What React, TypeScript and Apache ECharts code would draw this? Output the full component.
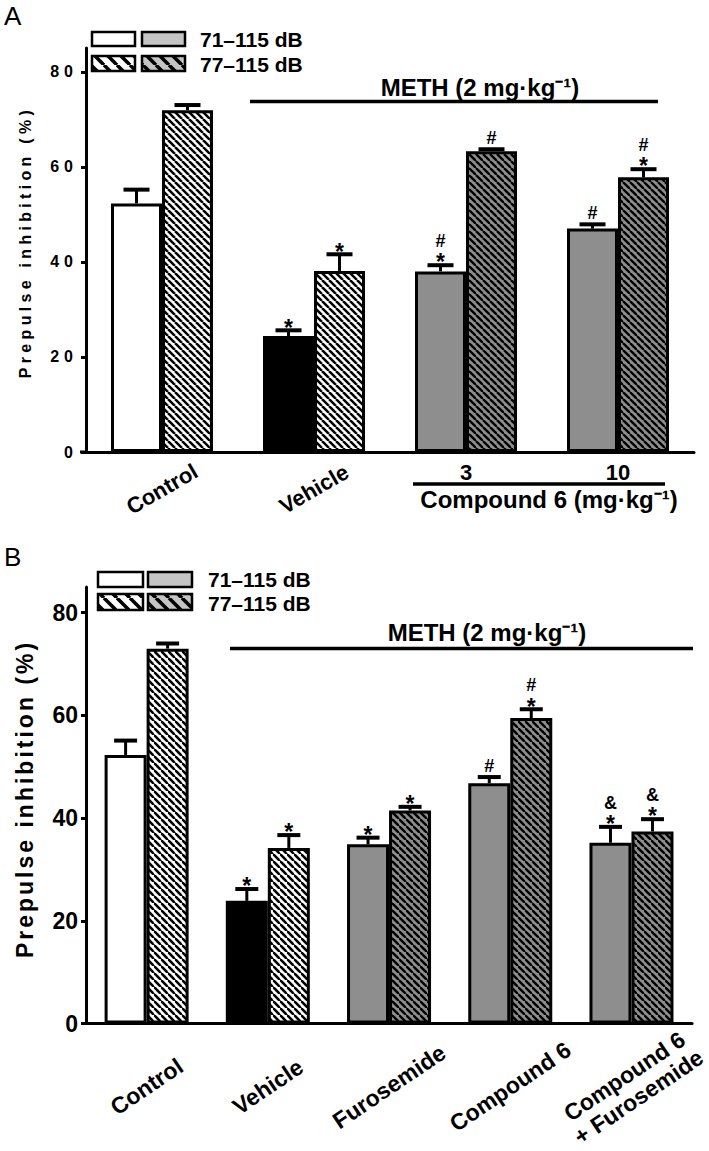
import React, { useEffect, useRef } from 'react';
import * as echarts from 'echarts';

const FONT = '"Liberation Sans", Arial, Helvetica, sans-serif';

// ---------- Panel A data ----------
const catsA = ['Control', 'Vehicle', '3', '10'];
const rotatedA = [true, true, false, false];
const kindA = ['control', 'vehicle', 'treat', 'treat'];
const a71 = [52.3, 24.4, 38.0, 47.0];
const a71Top = [55.2, 25.6, 39.3, 47.9];
const a77 = [71.9, 38.1, 63.3, 57.8];
const a77Top = [73.0, 41.6, 63.7, 59.5];
const a71Marks = ['', '*', '#*', '#'];
const a77Marks = ['', '*', '#', '#*'];

// ---------- Panel B data ----------
const catsB = ['Control', 'Vehicle', 'Furosemide', 'Compound 6', 'Compound 6\n+ Furosemide'];
const kindB = ['control', 'vehicle', 'treat', 'treat', 'treat'];
const b71 = [52.3, 23.9, 34.9, 46.8, 35.2];
const b71Top = [55.1, 26.2, 36.2, 48.0, 38.3];
const b77 = [73.0, 34.2, 41.5, 59.5, 37.4];
const b77Top = [74.0, 36.7, 42.2, 61.2, 39.8];
const b71Marks = ['', '*', '*', '#', '&*'];
const b77Marks = ['', '*', '*', '#*', '&*'];

const yTicks = [0, 20, 40, 60, 80];
const yMax = 85;
const legendLabels = ['71\u2013115 dB', '77\u2013115 dB'];
const methLabel = 'METH (2 mg\u00b7kg\u207b\u00b9)';
const compoundLabel = 'Compound 6 (mg\u00b7kg\u207b\u00b9)';
const yName = 'Prepulse inhibition (%)';

const GRAY = '#8e8e8e';
const LGRAY = '#c4c4c4';

function hatch(bg: string, fg: string, T: number, lw: number) {
  const c = document.createElement('canvas');
  c.width = T;
  c.height = T;
  const g = c.getContext('2d') as CanvasRenderingContext2D;
  g.fillStyle = bg;
  g.fillRect(0, 0, T, T);
  g.strokeStyle = fg;
  g.lineWidth = lw;
  for (let k = -1; k <= 1; k++) {
    g.beginPath();
    g.moveTo(k * T, 0);
    g.lineTo(k * T + T, T);
    g.stroke();
  }
  return { image: c, repeat: 'repeat' };
}

function errSeries(xi: number, yi: number, means: number[], tops: number[], marks: string[], side: number, barW: number, capW: number) {
  return {
    type: 'custom',
    xAxisIndex: xi,
    yAxisIndex: yi,
    z: 10,
    clip: false,
    silent: true,
    data: means.map((m, i) => [i, m, tops[i]]),
    renderItem: (params: any, api: any) => {
      const i = api.value(0);
      const p0 = api.coord([i, api.value(1)]);
      const p1 = api.coord([i, api.value(2)]);
      const x = p0[0] + (side * barW) / 2;
      const children: any[] = [
        { type: 'line', shape: { x1: x, y1: p0[1], x2: x, y2: p1[1] }, style: { stroke: '#000', lineWidth: 3 } },
        { type: 'line', shape: { x1: x - capW / 2, y1: p1[1], x2: x + capW / 2, y2: p1[1] }, style: { stroke: '#000', lineWidth: 4 } },
      ];
      const chars = (marks[params.dataIndex] || '').split('').reverse();
      let cy = p1[1];
      chars.forEach((c, k) => {
        const center = k === 0 ? p1[1] - (c === '*' ? 8 : 11) : cy - 16;
        cy = center;
        const fs = c === '*' ? 23 : 18;
        const dy = c === '*' ? 0.23 * fs : 0;
        children.push({
          type: 'text',
          style: {
            text: c, x, y: center + dy,
            align: 'center', verticalAlign: 'middle', textAlign: 'center', textVerticalAlign: 'middle',
            fontSize: fs, fontWeight: 'bold', fontFamily: FONT, fill: '#000',
          },
        });
      });
      return { type: 'group', children };
    },
  };
}

function txt(text: string, x: number, y: number, fs: number, opts: any = {}) {
  return {
    type: 'text',
    x, y,
    rotation: opts.rotation || 0,
    z: 20,
    style: {
      text, x: 0, y: 0,
      fontSize: fs,
      fontWeight: opts.weight || 'bold',
      fontFamily: FONT,
      fill: '#000',
      align: opts.align || 'center', textAlign: opts.align || 'center',
      verticalAlign: 'middle', textVerticalAlign: 'middle',
    },
  };
}

function ln(x1: number, y1: number, x2: number, y2: number, w: number) {
  return { type: 'line', z: 20, shape: { x1, y1, x2, y2 }, style: { stroke: '#000', lineWidth: w } };
}

function box(x: number, y: number, w: number, h: number, fill: any) {
  return { type: 'rect', z: 20, shape: { x, y, width: w, height: h }, style: { fill, stroke: '#000', lineWidth: 2.5 } };
}

function applySpacing(el: HTMLElement) {
  el.querySelectorAll('text').forEach((t: any) => {
    const s = t.textContent;
    const fs = parseFloat(getComputedStyle(t).fontSize);
    if (s === yName) t.style.letterSpacing = fs < 20 ? '4.3px' : '3px';
    else if (yTicks.map(String).indexOf(s) >= 0 && fs < 20) t.style.letterSpacing = '5px';
  });
}

export default function App() {
  const ref = useRef<HTMLDivElement>(null);
  useEffect(() => {
    document.body.style.margin = '0';
    const el = ref.current as HTMLDivElement;
    const chart = echarts.init(el, null, { renderer: 'svg' });

    const fills: any = {
      control: ['#ffffff', hatch('#ffffff', '#000', 7, 2.5)],
      vehicle: ['#000000', hatch('#ffffff', '#000', 7, 2.5)],
      treat: [GRAY, hatch(GRAY, '#000', 7, 2.3)],
    };
    const fillsB: any = {
      control: ['#ffffff', hatch('#ffffff', '#000', 7.5, 2.6)],
      vehicle: ['#000000', hatch('#ffffff', '#000', 7.5, 2.6)],
      treat: [GRAY, hatch(GRAY, '#000', 7.5, 2.4)],
    };
    const lgW = hatch('#ffffff', '#000', 13, 3.5);
    const lgG = hatch(LGRAY, '#000', 13, 3.5);

    const yAxisBase = (gi: number, fs: number, margin: number) => ({
      gridIndex: gi,
      type: 'value',
      min: 0,
      max: yMax,
      splitLine: { show: false },
      axisLine: { show: true, lineStyle: { color: '#000', width: 3 } },
      axisTick: { show: true, length: 5, customValues: yTicks, lineStyle: { color: '#000', width: 3 } },
      axisLabel: { customValues: yTicks, fontSize: fs, fontWeight: 'bold', fontFamily: FONT, color: '#000', margin },
    });

    const barData = (vals: number[], kinds: string[], f: any, idx: number) =>
      vals.map((v, i) => ({ value: v, itemStyle: { color: f[kinds[i]][idx] } }));

    const option: any = {
      animation: false,
      backgroundColor: '#ffffff',
      grid: [
        { left: 86, top: 48, width: 608, height: 404 },
        { left: 86, top: 587, width: 618, height: 450 },
      ],
      xAxis: [
        {
          gridIndex: 0, type: 'category', position: 'bottom', data: catsA,
          axisLine: { lineStyle: { color: '#000', width: 3 } },
          axisTick: { show: false },
          axisLabel: {
            interval: 0, rotate: 30, align: 'center', verticalAlign: 'middle', margin: 37,
            fontSize: 22, fontWeight: 'bold', fontFamily: FONT, color: '#000',
            formatter: (v: string, i: number) => (rotatedA[i] ? v : ''),
          },
        },
        {
          gridIndex: 0, type: 'category', position: 'bottom', data: catsA,
          axisLine: { show: false }, axisTick: { show: false },
          axisLabel: {
            interval: 0, margin: 9,
            fontSize: 22, fontWeight: 'bold', fontFamily: FONT, color: '#000',
            formatter: (v: string, i: number) => (rotatedA[i] ? '' : v),
          },
        },
        {
          gridIndex: 1, type: 'category', position: 'bottom', data: catsB,
          axisLine: { lineStyle: { color: '#000', width: 3 } },
          axisTick: { show: false },
          axisLabel: {
            interval: 0, rotate: 34, align: 'center', verticalAlign: 'middle', margin: 63,
            fontSize: 23, fontWeight: 'bold', fontFamily: FONT, color: '#000', lineHeight: 25,
          },
        },
      ],
      yAxis: [yAxisBase(0, 16, 8), yAxisBase(1, 23, 8)],
      series: [
        {
          type: 'bar', xAxisIndex: 0, yAxisIndex: 0, barWidth: 51, barGap: '0%', silent: true,
          itemStyle: { borderColor: '#000', borderWidth: 3 },
          data: barData(a71, kindA, fills, 0),
        },
        {
          type: 'bar', xAxisIndex: 0, yAxisIndex: 0, barWidth: 51, barGap: '0%', silent: true,
          itemStyle: { borderColor: '#000', borderWidth: 3 },
          data: barData(a77, kindA, fills, 1),
        },
        errSeries(0, 0, a71, a71Top, a71Marks, -1, 51, 26),
        errSeries(0, 0, a77, a77Top, a77Marks, 1, 51, 26),
        {
          type: 'bar', xAxisIndex: 2, yAxisIndex: 1, barWidth: 42, barGap: '0%', silent: true,
          itemStyle: { borderColor: '#000', borderWidth: 3 },
          data: barData(b71, kindB, fillsB, 0),
        },
        {
          type: 'bar', xAxisIndex: 2, yAxisIndex: 1, barWidth: 42, barGap: '0%', silent: true,
          itemStyle: { borderColor: '#000', borderWidth: 3 },
          data: barData(b77, kindB, fillsB, 1),
        },
        errSeries(2, 1, b71, b71Top, b71Marks, -1, 42, 23),
        errSeries(2, 1, b77, b77Top, b77Marks, 1, 42, 23),
      ],
      graphic: [
        // panel letters
        txt('A', 4, 16, 26, { align: 'left', weight: 'normal' }),
        txt('B', 4, 557, 26, { align: 'left', weight: 'normal' }),
        // legend A
        box(92, 32, 43, 14, '#ffffff'),
        box(142, 32, 43, 14, LGRAY),
        box(92, 56, 43, 15, lgW),
        box(142, 56, 43, 15, lgG),
        txt(legendLabels[0], 200, 39, 21, { align: 'left' }),
        txt(legendLabels[1], 200, 64, 21, { align: 'left' }),
        // legend B
        box(98, 572, 45, 15, '#ffffff'),
        box(148, 572, 44, 15, LGRAY),
        box(98, 594, 45, 16, lgW),
        box(148, 594, 44, 16, lgG),
        txt(legendLabels[0], 208, 579, 21, { align: 'left' }),
        txt(legendLabels[1], 208, 603, 21, { align: 'left' }),
        // y names
        txt(yName, 25, 242, 16, { rotation: Math.PI / 2 }),
        txt(yName, 25, 799, 23, { rotation: Math.PI / 2 }),
        // x axis stub left of the y axis (panel A)
        ln(80, 452, 88, 452, 3),
        // METH A
        ln(250, 101.5, 658, 101.5, 3.5),
        txt(methLabel, 480, 87, 24),
        // Compound line A
        ln(413, 484, 665, 484, 3.5),
        txt(compoundLabel, 549, 499, 24),
        // METH B
        ln(230, 648.5, 693, 648.5, 3.5),
        txt(methLabel, 487, 632, 24),
      ],
    };

    chart.setOption(option);
    applySpacing(el);
    chart.on('finished', () => applySpacing(el));
    const t1 = setTimeout(() => applySpacing(el), 50);
    const t2 = setTimeout(() => applySpacing(el), 400);
    return () => {
      clearTimeout(t1);
      clearTimeout(t2);
      chart.dispose();
    };
  }, []);
  return <div ref={ref} style={{ width: 709, height: 1151 }} />;
}
